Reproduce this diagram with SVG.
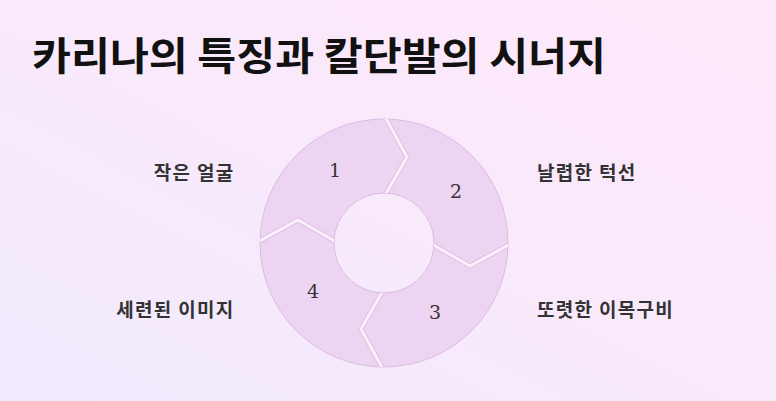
<svg xmlns="http://www.w3.org/2000/svg" width="776" height="401" viewBox="0 0 776 401">
  <defs>
    <linearGradient id="bg" x1="0" y1="1" x2="1" y2="0">
      <stop offset="0" stop-color="#f1ebfd"/>
      <stop offset="0.5" stop-color="#f8e9fb"/>
      <stop offset="1" stop-color="#fee8fa"/>
    </linearGradient>
    <clipPath id="ringClip">
      <path clip-rule="evenodd" d="M260,243 a124,124 0 1,0 248,0 a124,124 0 1,0 -248,0 Z M334,243 a50,50 0 1,0 100,0 a50,50 0 1,0 -100,0 Z"/>
    </clipPath>
    <style>
      .title { font-family: "Noto Sans CJK KR", "Noto Sans", sans-serif; font-weight: 700; font-size: 39px; fill: #111; }
      .label { font-family: "Noto Sans CJK KR", "Noto Sans", sans-serif; font-weight: 600; font-size: 19px; letter-spacing: 1.3px; fill: #333; }
      .num { font-family: "DejaVu Serif", "Liberation Serif", serif; font-size: 19px; fill: #333; text-anchor: middle; }
      .ring { fill: #eed4f3; stroke: #d9bde1; stroke-width: 1; fill-rule: evenodd; }
      .gapEdge { fill: none; stroke: #dcc1e3; stroke-width: 5; stroke-linejoin: miter; }
      .gap { fill: none; stroke: #fbeffc; stroke-width: 3; stroke-linejoin: miter; }
    </style>
  </defs>
  <rect x="0" y="0" width="776" height="401" fill="url(#bg)"/>
  <text class="title" x="32" y="70" textLength="574" lengthAdjust="spacingAndGlyphs">카리나의 특징과 칼단발의 시너지</text>

  <g id="cycle">
    <path class="ring" d="M260,243 a124,124 0 1,0 248,0 a124,124 0 1,0 -248,0 Z M334,243 a50,50 0 1,0 100,0 a50,50 0 1,0 -100,0 Z"/>
  </g>
  <g id="connectors" clip-path="url(#ringClip)">
    <polyline class="gapEdge" points="384,115 407,157 384,197"/>
    <polyline class="gapEdge" points="512,243 470,266 430,243"/>
    <polyline class="gapEdge" points="384,371 361,329 384,289"/>
    <polyline class="gapEdge" points="256,243 298,220 338,243"/>
    <polyline class="gap" points="384,115 407,157 384,197"/>
    <polyline class="gap" points="512,243 470,266 430,243"/>
    <polyline class="gap" points="384,371 361,329 384,289"/>
    <polyline class="gap" points="256,243 298,220 338,243"/>
  </g>

  <g id="node1">
    <text class="num" x="335" y="177">1</text>
    <text class="label" x="234.5" y="180" text-anchor="end">작은 얼굴</text>
  </g>
  <g id="node2">
    <text class="num" x="456" y="198">2</text>
    <text class="label" x="537" y="180">날렵한 턱선</text>
  </g>
  <g id="node3">
    <text class="num" x="435" y="319">3</text>
    <text class="label" x="537" y="317">또렷한 이목구비</text>
  </g>
  <g id="node4">
    <text class="num" x="313" y="298">4</text>
    <text class="label" x="234.5" y="317" text-anchor="end">세련된 이미지</text>
  </g>
</svg>
